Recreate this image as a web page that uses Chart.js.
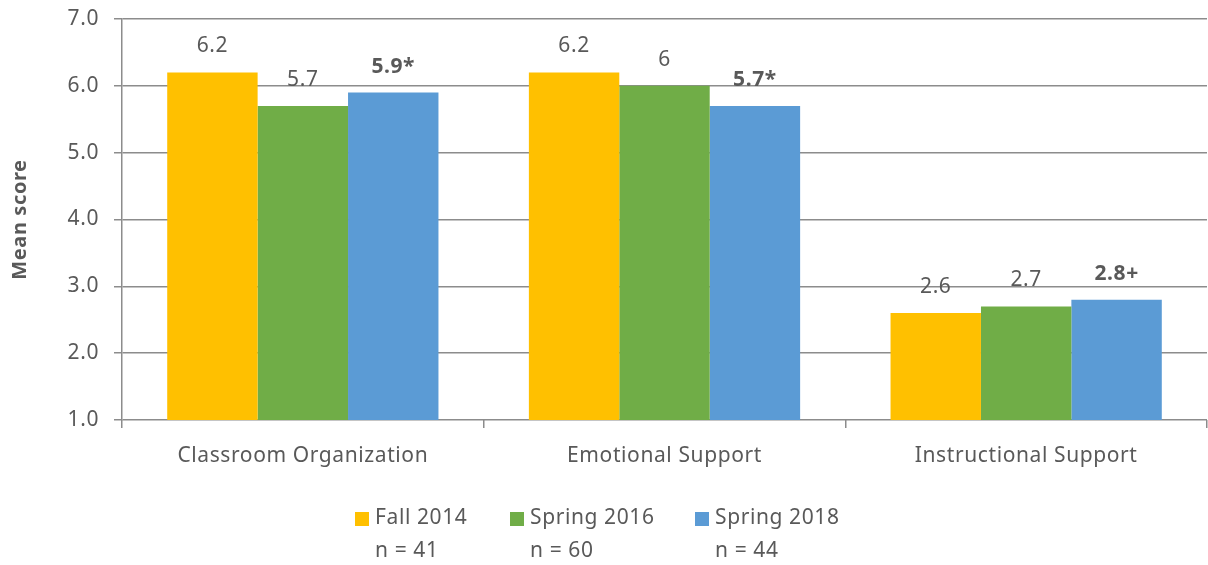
<!DOCTYPE html>
<html>
<head>
<meta charset="utf-8">
<script src="https://cdn.jsdelivr.net/npm/chart.js@4/dist/chart.umd.min.js"></script>
<style>
  html, body { margin: 0; padding: 0; background: #fff; }
  #wrap { width: 1208px; height: 565px; position: relative; }
</style>
</head>
<body>
<div id="wrap"><canvas id="c"></canvas></div>
<script>
/* mean scores by domain and wave */
const categories  = ['Classroom Organization', 'Emotional Support', 'Instructional Support'];
const seriesNames = ['Fall 2014', 'Spring 2016', 'Spring 2018'];
const sampleSizes = ['n = 41', 'n = 60', 'n = 44'];
const fall2014    = [6.2, 6.2, 2.6];
const spring2016  = [5.7, 6.0, 2.7];
const spring2018  = [5.9, 5.7, 2.8];
const labels2014  = ['6.2', '6.2', '2.6'];
const labels2016  = ['5.7', '6', '2.7'];
const labels2018  = ['5.9*', '5.7*', '2.8+'];
const yTicks      = [1, 2, 3, 4, 5, 6, 7];

const COLORS = ['#FFC000', '#70AD47', '#5B9BD5'];
const TEXT   = '#595959';
const GRID   = '#8c8c8c';
const FONT   = "'Noto Sans', sans-serif";
const SIZE   = 21;

const valueLabels = [labels2014, labels2016, labels2018];
const boldSeries  = [false, false, true];

/* ── slightly wider tracking, like the original ── */
const tracking = {
  id: 'tracking',
  beforeDraw(chart) { chart.ctx.letterSpacing = '0.6px'; },
};

/* ── value labels above bars ── */
const barLabels = {
  id: 'barLabels',
  afterDatasetsDraw(chart) {
    const ctx = chart.ctx;
    ctx.save();
    ctx.fillStyle = TEXT;
    ctx.textAlign = 'center';
    ctx.textBaseline = 'middle';
    chart.data.datasets.forEach((ds, i) => {
      ctx.font = (boldSeries[i] ? 'bold ' : '') + SIZE + 'px ' + FONT;
      chart.getDatasetMeta(i).data.forEach((bar, j) => {
        ctx.fillText(valueLabels[i][j], bar.x, bar.y - 26);
      });
    });
    ctx.restore();
  },
};

/* ── two-line legend under the axis ── */
const twoLineLegend = {
  id: 'twoLineLegend',
  afterDraw(chart) {
    const ctx = chart.ctx;
    const xs = [355, 510, 695];
    ctx.save();
    ctx.font = SIZE + 'px ' + FONT;
    ctx.textBaseline = 'middle';
    ctx.textAlign = 'left';
    seriesNames.forEach((name, i) => {
      ctx.fillStyle = COLORS[i];
      ctx.fillRect(xs[i], 512, 14, 14);
      ctx.fillStyle = TEXT;
      ctx.fillText(name, xs[i] + 20, 518);
      ctx.fillText(sampleSizes[i], xs[i] + 20, 551);
    });
    ctx.restore();
  },
};

new Chart(document.getElementById('c'), {
  type: 'bar',
  data: {
    labels: categories,
    datasets: [fall2014, spring2016, spring2018].map((d, i) => ({
      label: seriesNames[i],
      data: d,
      backgroundColor: COLORS[i],
      borderWidth: 0,
      categoryPercentage: 0.75,
      barPercentage: 1.0,
    })),
  },
  options: {
    responsive: true,
    maintainAspectRatio: false,
    animation: false,
    layout: { padding: { top: 19, right: 1, left: 0, bottom: 0 } },
    plugins: {
      legend: { display: false },
      tooltip: { enabled: false },
    },
    scales: {
      x: {
        grid: {
          drawOnChartArea: false,
          drawTicks: true,
          tickLength: 8,
          color: GRID,
          lineWidth: 1.5,
        },
        border: { display: false },
        ticks: { color: TEXT, font: { family: FONT, size: SIZE }, padding: 15 },
        afterFit: s => { s.height = 145; s.paddingLeft = 0; s.paddingRight = 0; },
      },
      y: {
        min: 1, max: 7,
        afterBuildTicks: s => { s.ticks = yTicks.map(v => ({ value: v })); },
        grid: { color: GRID, lineWidth: 1.5, tickLength: 8 },
        border: { color: GRID, width: 1.5 },
        ticks: {
          color: TEXT,
          font: { family: FONT, size: SIZE },
          padding: 15,
          callback: v => v.toFixed(1),
        },
        title: {
          display: true,
          text: 'Mean score',
          color: TEXT,
          font: { family: FONT, size: 20, weight: 'bold' },
          padding: { top: 8, bottom: 0 },
        },
        afterFit: s => { s.width = 122; s.paddingTop = 0; s.paddingBottom = 0; },
      },
    },
  },
  plugins: [tracking, barLabels, twoLineLegend],
});
</script>
</body>
</html>
